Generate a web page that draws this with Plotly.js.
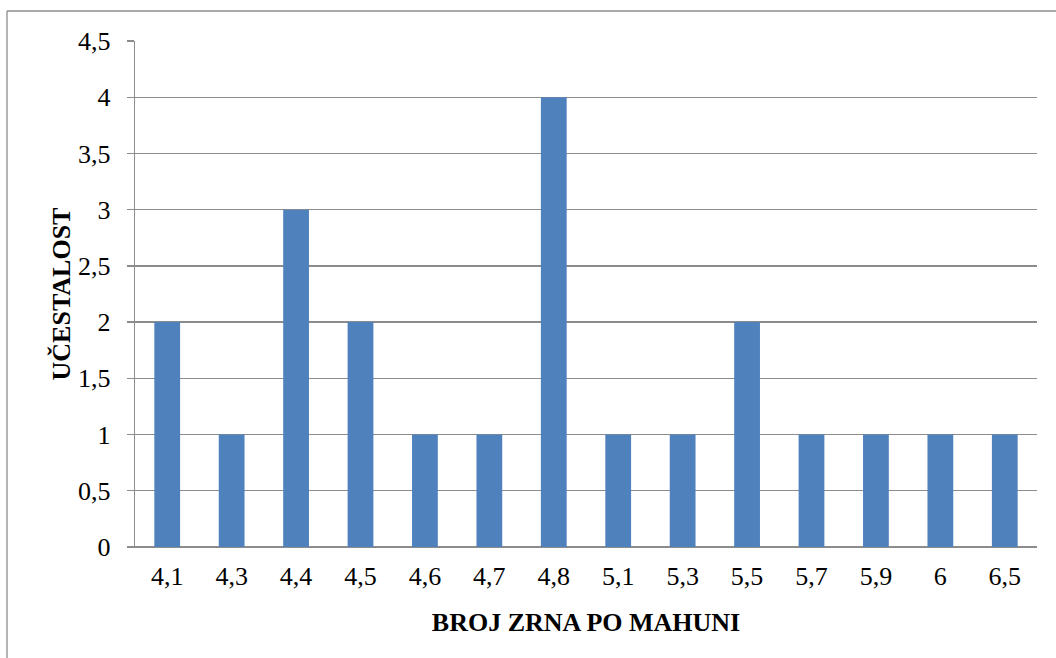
<!DOCTYPE html>
<html>
<head>
<meta charset="utf-8">
<script src="https://cdn.plot.ly/plotly-3.0.1.min.js"></script>
<style>
html,body{margin:0;padding:0;background:#fff;}
#chart{width:1056px;height:658px;}
</style>
</head>
<body>
<div id="chart"></div>
<script>
var categories = ['4,1','4,3','4,4','4,5','4,6','4,7','4,8','5,1','5,3','5,5','5,7','5,9','6','6,5'];
var frequencies = [2,1,3,2,1,1,4,1,1,2,1,1,1,1];
var yTickVals = [0,0.5,1,1.5,2,2.5,3,3.5,4,4.5];
var yTickText = ['0','0,5','1','1,5','2','2,5','3','3,5','4','4,5'];

var FAM = 'Liberation Serif, Times New Roman, serif';
var W = 1056, H = 658;
var m = {l:135, r:19, t:41, b:111};
var pw = W - m.l - m.r, ph = H - m.t - m.b;
function px(X){ return (X - m.l)/pw; }
function py(Y){ return (m.t + ph - Y)/ph; }

var data = [{
  type: 'bar',
  x: categories,
  y: frequencies,
  marker: {color: '#4F81BD'},
  hoverinfo: 'x+y'
}];

var layout = {
  width: W, height: H,
  margin: m,
  paper_bgcolor: '#ffffff',
  plot_bgcolor: '#ffffff',
  bargap: 0.6,
  showlegend: false,
  font: {family: FAM, color: '#000000', size: 26},
  xaxis: {
    type: 'category',
    tickfont: {family: FAM, size: 26, color: '#000000'},
    showgrid: false,
    showline: false,
    ticks: '',
    zeroline: false,
    ticklabelstandoff: 11,
    title: {text: '<b>BROJ ZRNA PO MAHUNI</b>', font: {family: FAM, size: 26, color: '#000000'}, standoff: 22}
  },
  yaxis: {
    range: [0, 4.5],
    tickvals: yTickVals,
    ticktext: yTickText,
    tickfont: {family: FAM, size: 26, color: '#000000'},
    showgrid: true,
    gridcolor: '#8c8c8c',
    gridwidth: 1.3,
    showline: true,
    linecolor: '#8c8c8c',
    linewidth: 1.3,
    ticks: 'outside',
    ticklen: 7,
    tickcolor: '#8c8c8c',
    tickwidth: 1.3,
    ticklabelstandoff: 11,
    zeroline: true,
    zerolinecolor: '#8c8c8c',
    zerolinewidth: 2,
    title: {text: '<b>UČESTALOST</b>', font: {family: FAM, size: 26, color: '#000000'}, standoff: 0}
  },
  shapes: [
    {type: 'line', xref: 'paper', yref: 'paper',
     x0: px(7), x1: px(7), y0: py(H + 10), y1: py(11),
     line: {color: '#8c8c8c', width: 1.3}},
    {type: 'line', xref: 'paper', yref: 'paper',
     x0: px(7), x1: px(W + 10), y0: py(11), y1: py(11),
     line: {color: '#8c8c8c', width: 1.3}},
    {type: 'line', xref: 'paper', yref: 'paper',
     x0: px(128), x1: 0, y0: 0, y1: 0,
     line: {color: '#8c8c8c', width: 2}}
  ]
};

Plotly.newPlot('chart', data, layout, {displayModeBar: false, staticPlot: true});
</script>
</body>
</html>
